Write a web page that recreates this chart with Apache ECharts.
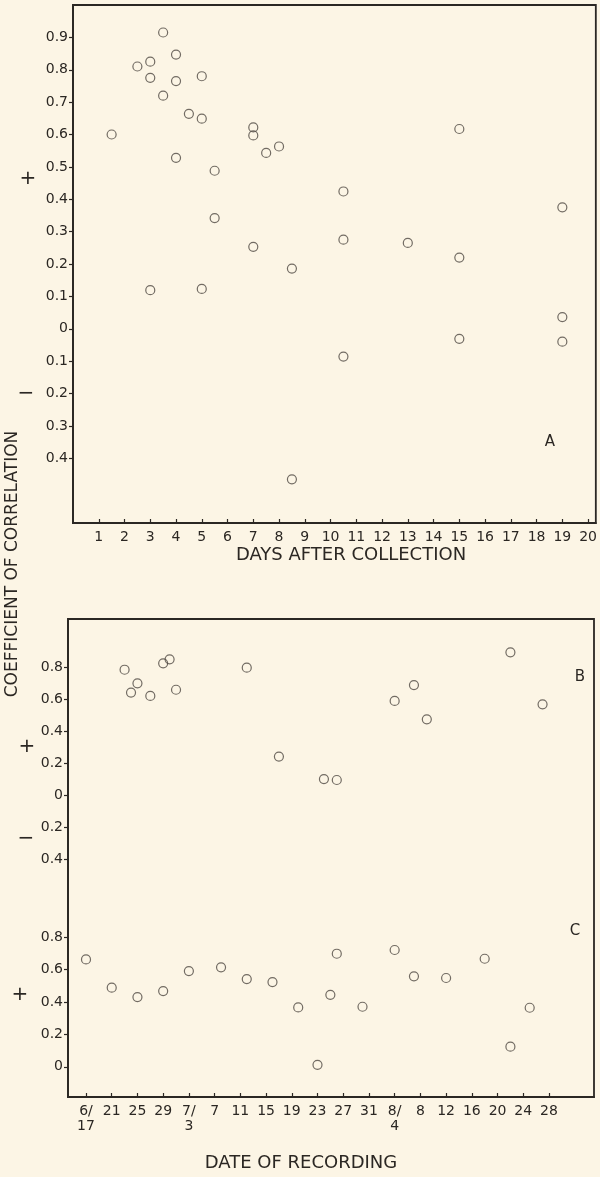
<!DOCTYPE html>
<html><head><meta charset="utf-8">
<script src="https://cdn.jsdelivr.net/npm/echarts@6/dist/echarts.min.js"></script>
<style>html,body{margin:0;padding:0;background:#fcf5e5}#c{width:600px;height:1177px}</style>
</head><body><div id="c"></div>
<script>
// Panel A: days after collection vs coefficient of correlation
const daysA = [1.5,2.5,3,3,3.5,3.5,4,4,4,4.5,5,5,5.5,5.5,7,7,7,7.5,8,8.5,3,5,8.5,15,10.5,10.5,13,15,19,19,15,19,10.5];
const corrA = [0.60,0.81,0.825,0.775,0.915,0.72,0.847,0.765,0.528,0.664,0.78,0.649,0.488,0.342,0.622,0.597,0.253,0.543,0.563,0.186,0.119,0.123,-0.465,0.617,0.424,0.275,0.265,0.22,0.375,0.036,-0.031,-0.04,-0.086];
// Panel B: day index counted from June 17
const daysB = [6,7,8,10,12,13,14,25,30,37,39,48,51,53,66,71];
const corrB = [0.786,0.643,0.701,0.622,0.826,0.851,0.661,0.799,0.243,0.103,0.097,0.591,0.69,0.476,0.895,0.57];
// Panel C: day index counted from June 17
const daysC = [0,4,8,12,16,21,25,29,33,36,38,39,43,48,51,56,62,66,69];
const corrC = [0.664,0.489,0.431,0.468,0.592,0.615,0.542,0.524,0.367,0.012,0.445,0.699,0.371,0.722,0.559,0.549,0.668,0.124,0.365];
// Tick labels
const dayTicksA = [1,2,3,4,5,6,7,8,9,10,11,12,13,14,15,16,17,18,19,20];
const corrTicksA = [-0.4,-0.3,-0.2,-0.1,0,0.1,0.2,0.3,0.4,0.5,0.6,0.7,0.8,0.9];
const corrTicksB = [-0.4,-0.2,0,0.2,0.4,0.6,0.8];
const corrTicksC = [0,0.2,0.4,0.6,0.8];
const dateTickDays = [0,4,8,12,16,20,24,28,32,36,40,44,48,52,56,60,64,68,72];
const dateTickLabels = ['6/17','21','25','29','7/3','7','11','15','19','23','27','31','8/4','8','12','16','20','24','28'];

const INK = '#2b2723';
const PT = '#4f4842';
const FONT = 'DejaVu Sans';
const corrFmt = v => { const a = Math.abs(v); return a < 1e-9 ? '0' : a.toFixed(1); };
const dateFmt = v => { const i = dateTickDays.indexOf(Math.round(v)); return i < 0 ? '' : dateTickLabels[i].replace('/', '/\n'); };

const lowerRect = {left: 68, right: 6, top: 619, bottom: 80};
const sym = {symbol: 'circle', symbolSize: 9, itemStyle: {color: 'rgba(0,0,0,0)', borderColor: PT, borderWidth: 1.2}};

function yAx(grid, min, max, ticks, showLine) {
  return {
    type: 'value', gridIndex: grid, min: min, max: max, position: 'left',
    axisLine: {show: showLine, onZero: false, lineStyle: {color: INK, width: 1.8}},
    axisTick: {show: true, inside: false, length: 4, customValues: ticks, lineStyle: {color: INK, width: 1.2}},
    axisLabel: {show: true, customValues: ticks, formatter: corrFmt, margin: 5, color: INK, fontFamily: FONT, fontSize: 14},
    splitLine: {show: false}
  };
}

const option = {
  backgroundColor: '#fcf5e5',
  animation: false,
  grid: [
    {left: 73, right: 4, top: 5, bottom: 654, show: true, borderColor: INK, borderWidth: 1.8, backgroundColor: 'transparent'},
    Object.assign({show: true, borderColor: INK, borderWidth: 1.8, backgroundColor: 'transparent'}, lowerRect),
    Object.assign({show: false}, lowerRect)
  ],
  xAxis: [
    {type: 'value', gridIndex: 0, min: 0, max: 20.3,
     axisLine: {show: true, onZero: false, lineStyle: {color: INK, width: 1.8}},
     axisTick: {show: true, inside: true, length: 4, customValues: dayTicksA, lineStyle: {color: INK, width: 1.2}},
     axisLabel: {customValues: dayTicksA, margin: 7, color: INK, fontFamily: FONT, fontSize: 14},
     splitLine: {show: false}},
    {type: 'value', gridIndex: 1, min: -2.8, max: 79, show: false, axisLine: {onZero: false}},
    {type: 'value', gridIndex: 2, min: -2.8, max: 79,
     axisLine: {show: true, onZero: false, lineStyle: {color: INK, width: 1.8}},
     axisTick: {show: true, inside: true, length: 4, customValues: dateTickDays, lineStyle: {color: INK, width: 1.2}},
     axisLabel: {customValues: dateTickDays, formatter: dateFmt, margin: 7, color: INK, fontFamily: FONT, fontSize: 14, lineHeight: 15},
     splitLine: {show: false}}
  ],
  yAxis: [
    yAx(0, -0.6, 1.0, corrTicksA, true),
    yAx(1, -1.884, 1.103, corrTicksB, true),
    yAx(2, -0.187, 2.769, corrTicksC, false)
  ],
  series: [
    Object.assign({type: 'scatter', xAxisIndex: 0, yAxisIndex: 0, data: daysA.map((d, i) => [d, corrA[i]])}, sym),
    Object.assign({type: 'scatter', xAxisIndex: 1, yAxisIndex: 1, data: daysB.map((d, i) => [d, corrB[i]])}, sym),
    Object.assign({type: 'scatter', xAxisIndex: 2, yAxisIndex: 2, data: daysC.map((d, i) => [d, corrC[i]])}, sym)
  ],
  graphic: [
    {type: 'text', x: 13, y: 564, rotation: Math.PI / 2, style: {text: 'COEFFICIENT OF CORRELATION', fill: INK, font: '17px "DejaVu Sans"', align: 'center', verticalAlign: 'middle'}},
    {type: 'text', x: 351, y: 555, style: {text: 'DAYS AFTER COLLECTION', fill: INK, font: '18px "DejaVu Sans"', align: 'center', verticalAlign: 'middle'}},
    {type: 'text', x: 301, y: 1163, style: {text: 'DATE OF RECORDING', fill: INK, font: '18px "DejaVu Sans"', align: 'center', verticalAlign: 'middle'}},
    {type: 'text', x: 550, y: 442, style: {text: 'A', fill: INK, font: '15px "DejaVu Sans"', align: 'center', verticalAlign: 'middle'}},
    {type: 'text', x: 580, y: 677, style: {text: 'B', fill: INK, font: '15px "DejaVu Sans"', align: 'center', verticalAlign: 'middle'}},
    {type: 'text', x: 575, y: 931, style: {text: 'C', fill: INK, font: '15px "DejaVu Sans"', align: 'center', verticalAlign: 'middle'}},
    {type: 'text', x: 28, y: 179, style: {text: '+', fill: INK, font: '20px "DejaVu Sans"', align: 'center', verticalAlign: 'middle'}},
    {type: 'text', x: 26, y: 394, style: {text: '−', fill: INK, font: '20px "DejaVu Sans"', align: 'center', verticalAlign: 'middle'}},
    {type: 'text', x: 27, y: 747, style: {text: '+', fill: INK, font: '20px "DejaVu Sans"', align: 'center', verticalAlign: 'middle'}},
    {type: 'text', x: 26, y: 839, style: {text: '−', fill: INK, font: '20px "DejaVu Sans"', align: 'center', verticalAlign: 'middle'}},
    {type: 'text', x: 20, y: 995, style: {text: '+', fill: INK, font: '20px "DejaVu Sans"', align: 'center', verticalAlign: 'middle'}}
  ]
};
echarts.init(document.getElementById('c'), null, {renderer: 'canvas'}).setOption(option);
</script>
</body></html>
